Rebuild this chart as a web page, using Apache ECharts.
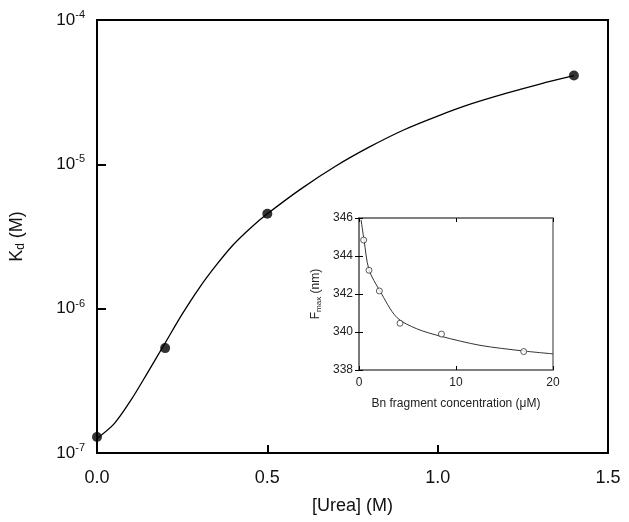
<!DOCTYPE html>
<html>
<head>
<meta charset="utf-8">
<script src="https://cdn.jsdelivr.net/npm/echarts@6/dist/echarts.min.js"></script>
<style>
  html, body { margin: 0; padding: 0; background: #fff; }
  #chart { width: 629px; height: 522px; }
</style>
</head>
<body>
<div id="chart"></div>
<script>
// main panel: Kd vs urea
const ureaX = [0, 0.2, 0.5, 1.4];
const kdY = [1.29e-7, 5.33e-7, 4.55e-6, 4.13e-5];
// fitted curve
const fitX = [0, 0.05, 0.1, 0.15, 0.2, 0.25, 0.3, 0.35, 0.4, 0.45, 0.5, 0.6, 0.7, 0.8, 0.9, 1.0, 1.1, 1.2, 1.3, 1.4];
const fitY = [1.26e-7, 1.59e-7, 2.33e-7, 3.65e-7, 5.78e-7, 9.16e-7, 1.39e-6, 2.00e-6, 2.77e-6, 3.61e-6, 4.54e-6,
              6.79e-6, 9.70e-6, 1.32e-5, 1.73e-5, 2.16e-5, 2.63e-5, 3.10e-5, 3.60e-5, 4.11e-5];

// inset: Fmax vs Bn fragment
const bnX = [0.48, 1.03, 2.1, 4.23, 8.5, 16.98];
const fmaxY = [344.84, 343.25, 342.16, 340.46, 339.89, 338.97];
const bnFitX = [0.21, 0.52, 1.03, 2.16, 3.89, 5.95, 8.48, 12.47, 16.98, 20];
const bnFitY = [345.91, 344.84, 343.28, 342.16, 340.77, 340.17, 339.77, 339.30, 339.00, 338.85];

const FONT = 'Liberation Sans';

function pairs(xs, ys) {
  return xs.map((x, i) => [x, ys[i]]);
}

const chart = echarts.init(document.getElementById('chart'));

const option = {
  animation: false,
  backgroundColor: '#fff',
  textStyle: { fontFamily: FONT },
  grid: [
    { left: 97, top: 20, right: 21, bottom: 69, show: true, borderColor: '#000', borderWidth: 2, backgroundColor: 'transparent' },
    { left: 359, top: 218, right: 76, bottom: 152, show: true, borderColor: '#777', borderWidth: 1.5, backgroundColor: '#fff', z: 5 }
  ],
  xAxis: [
    {
      gridIndex: 0, type: 'value', min: 0, max: 1.5, interval: 0.5,
      name: '[Urea] (M)', nameLocation: 'middle', nameGap: 44,
      nameTextStyle: { fontFamily: FONT, fontSize: 18, color: '#111' },
      axisLine: { lineStyle: { color: '#000', width: 2 } },
      axisTick: { inside: true, length: 8, lineStyle: { color: '#000', width: 2 } },
      axisLabel: { margin: 16, fontSize: 18, color: '#111', formatter: v => v.toFixed(1) },
      splitLine: { show: false }
    },
    {
      gridIndex: 1, type: 'value', min: 0, max: 20, interval: 10,
      name: 'Bn fragment concentration (\u03bcM)', nameLocation: 'middle', nameGap: 28,
      nameTextStyle: { fontFamily: FONT, fontSize: 12, color: '#222' },
      axisLine: { lineStyle: { color: '#777', width: 1.5 } },
      axisTick: { inside: true, length: 4, lineStyle: { color: '#000' } },
      axisLabel: { margin: 7, fontSize: 12, color: '#222' },
      splitLine: { show: false }, z: 6
    },
    {
      gridIndex: 1, type: 'value', position: 'top', min: 0, max: 20, interval: 10,
      axisLine: { lineStyle: { color: '#777', width: 1.5 } },
      axisTick: { inside: true, length: 4, lineStyle: { color: '#000' } },
      axisLabel: { show: false }, splitLine: { show: false }, z: 6
    }
  ],
  yAxis: [
    {
      gridIndex: 0, type: 'log', logBase: 10, min: 1e-7, max: 1e-4,
      name: '{a|K}{s|d}{a| (M)}', nameLocation: 'middle', nameGap: 70,
      nameTextStyle: {
        rich: {
          a: { fontFamily: FONT, fontSize: 18, color: '#111' },
          s: { fontFamily: FONT, fontSize: 12, color: '#111', verticalAlign: 'bottom', padding: [8, 0, 0, 0] }
        }
      },
      axisLine: { lineStyle: { color: '#000', width: 2 } },
      axisTick: { inside: true, length: 9, lineStyle: { color: '#000', width: 2 } },
      axisLabel: {
        margin: 12,
        formatter: v => '{b|10}{s|' + Math.round(Math.log10(v)) + '}',
        rich: {
          b: { fontFamily: FONT, fontSize: 17, color: '#111' },
          s: { fontFamily: FONT, fontSize: 11, color: '#111', verticalAlign: 'top', padding: [0, 0, 10, 0] }
        }
      },
      splitLine: { show: false }
    },
    {
      gridIndex: 1, type: 'value', min: 338, max: 346, interval: 2,
      name: '{a|F}{s|max}{a| (nm)}', nameLocation: 'middle', nameGap: 36,
      nameTextStyle: {
        rich: {
          a: { fontFamily: FONT, fontSize: 12, color: '#222' },
          s: { fontFamily: FONT, fontSize: 8, color: '#222', verticalAlign: 'bottom', padding: [6, 0, 0, 0] }
        }
      },
      axisLine: { lineStyle: { color: '#777', width: 1.5 } },
      axisTick: { inside: true, length: 4, lineStyle: { color: '#000' } },
      axisLabel: { margin: 6, fontSize: 12, color: '#222' },
      splitLine: { show: false }, z: 6
    },
    {
      gridIndex: 1, type: 'value', position: 'right', min: 338, max: 346, interval: 2,
      axisLine: { lineStyle: { color: '#777', width: 1.5 } },
      axisTick: { inside: true, length: 4, lineStyle: { color: '#000' } },
      axisLabel: { show: false }, splitLine: { show: false }, z: 6
    }
  ],
  series: [
    {
      type: 'line', xAxisIndex: 0, yAxisIndex: 0, data: pairs(fitX, fitY),
      smooth: 0.3, showSymbol: false, lineStyle: { color: '#000', width: 1.3 }, z: 2
    },
    {
      type: 'scatter', xAxisIndex: 0, yAxisIndex: 0, data: pairs(ureaX, kdY),
      symbol: 'circle', symbolSize: 10, itemStyle: { color: '#000' }, z: 3
    },
    {
      type: 'line', xAxisIndex: 1, yAxisIndex: 1, data: pairs(bnFitX, bnFitY),
      smooth: 0.3, showSymbol: false, lineStyle: { color: '#333', width: 1 }, z: 7
    },
    {
      type: 'scatter', xAxisIndex: 1, yAxisIndex: 1, data: pairs(bnX, fmaxY),
      symbol: 'circle', symbolSize: 6, itemStyle: { color: '#fff', borderColor: '#333', borderWidth: 1 }, z: 8
    }
  ]
};

chart.setOption(option);
</script>
</body>
</html>
